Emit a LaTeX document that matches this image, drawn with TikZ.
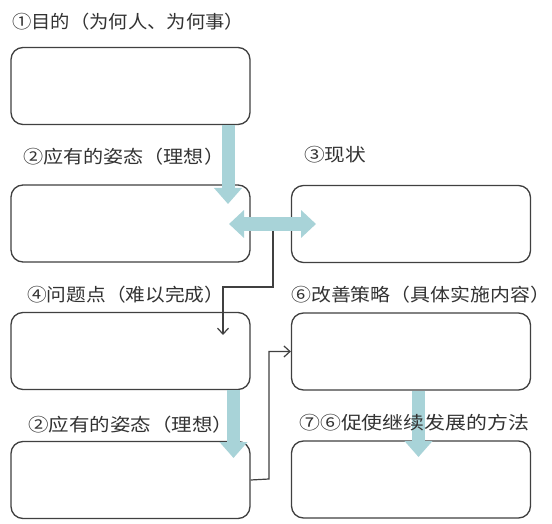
\documentclass[tikz,border=0pt]{standalone}
\usepackage{fontspec}
\usepackage{graphicx}
\newfontfamily\cjk{Noto Sans CJK SC}
\usetikzlibrary{arrows.meta}
\definecolor{boxline}{HTML}{404040}
\definecolor{blockfill}{HTML}{A8D3D8}
\definecolor{txt}{HTML}{333333}
\newcommand{\labtext}[2]{\resizebox{#1}{\height}{#2}}
\tikzset{
  box/.style={draw=boxline, line width=1.3pt, rounded corners=12pt, fill=white,
    minimum width=239pt, minimum height=77pt, inner sep=0pt},
  lab/.style={anchor=west, inner sep=0pt, text=txt, font=\cjk\fontsize{18}{21}\selectfont},
  blockarrow/.style={draw=blockfill, line width=13pt,
    -{Triangle[width=27pt,length=16pt]}},
  blockdouble/.style={draw=blockfill, line width=14pt,
    {Triangle[width=27pt,length=15pt]}-{Triangle[width=27pt,length=15pt]}},
  thin/.style={draw=boxline, line width=1.2pt, -{Straight Barb[length=6pt,width=11pt]}}
}
\begin{document}
\begin{tikzpicture}[x=1pt,y=-1pt]
\useasboundingbox (0,0) rectangle (552,524);
\fill[white] (0,0) rectangle (552,524);
% boxes
\node[box] (b1) at (130.5,86) {};
\node[box] (b2) at (130.5,223.5) {};
\node[box] (b3) at (411,224) {};
\node[box] (b4) at (130.5,351) {};
\node[box] (b6) at (411,351.5) {};
\node[box] (b5) at (130.5,480) {};
\node[box] (b7) at (411,479.5) {};
% block arrows
\coordinate (a1e) at (228,204);
\draw[blockarrow] (b1.south -| a1e) -- (a1e);
\coordinate (dl) at (229,224);
\coordinate (dr) at (316,224);
\draw[blockdouble] (dl) -- (dr);
\coordinate (a2e) at (233.5,458);
\draw[blockarrow] (b4.south -| a2e) -- (a2e);
\coordinate (a3e) at (418.5,457);
\draw[blockarrow] (b6.south -| a3e) -- (a3e);
% thin connectors
\coordinate (c1s) at (273,231);
\coordinate (c1e) at (223,335);
\draw[thin] (c1s) -- (273,287) -| (c1e);
\draw[thin] (b5.east) -- (269,479) |- (b6.west);
% labels
\node[lab] (l1) at (12,22) {\labtext{232pt}{①目的（为何人、为何事）}};
\node[lab] (l2) at (23,157) {\labtext{201pt}{②应有的姿态（理想）}};
\node[lab] (l3) at (304,155) {\labtext{62pt}{③现状}};
\node[lab] (l4) at (27,295) {\labtext{197pt}{④问题点（难以完成）}};
\node[lab] (l6) at (291,295) {\labtext{259pt}{⑥改善策略（具体实施内容）}};
\node[lab] (l5) at (28,425) {\labtext{205pt}{②应有的姿态（理想）}};
\node[lab] (l7) at (299,423) {\labtext{230pt}{⑦⑥促使继续发展的方法}};
\end{tikzpicture}
\end{document}
